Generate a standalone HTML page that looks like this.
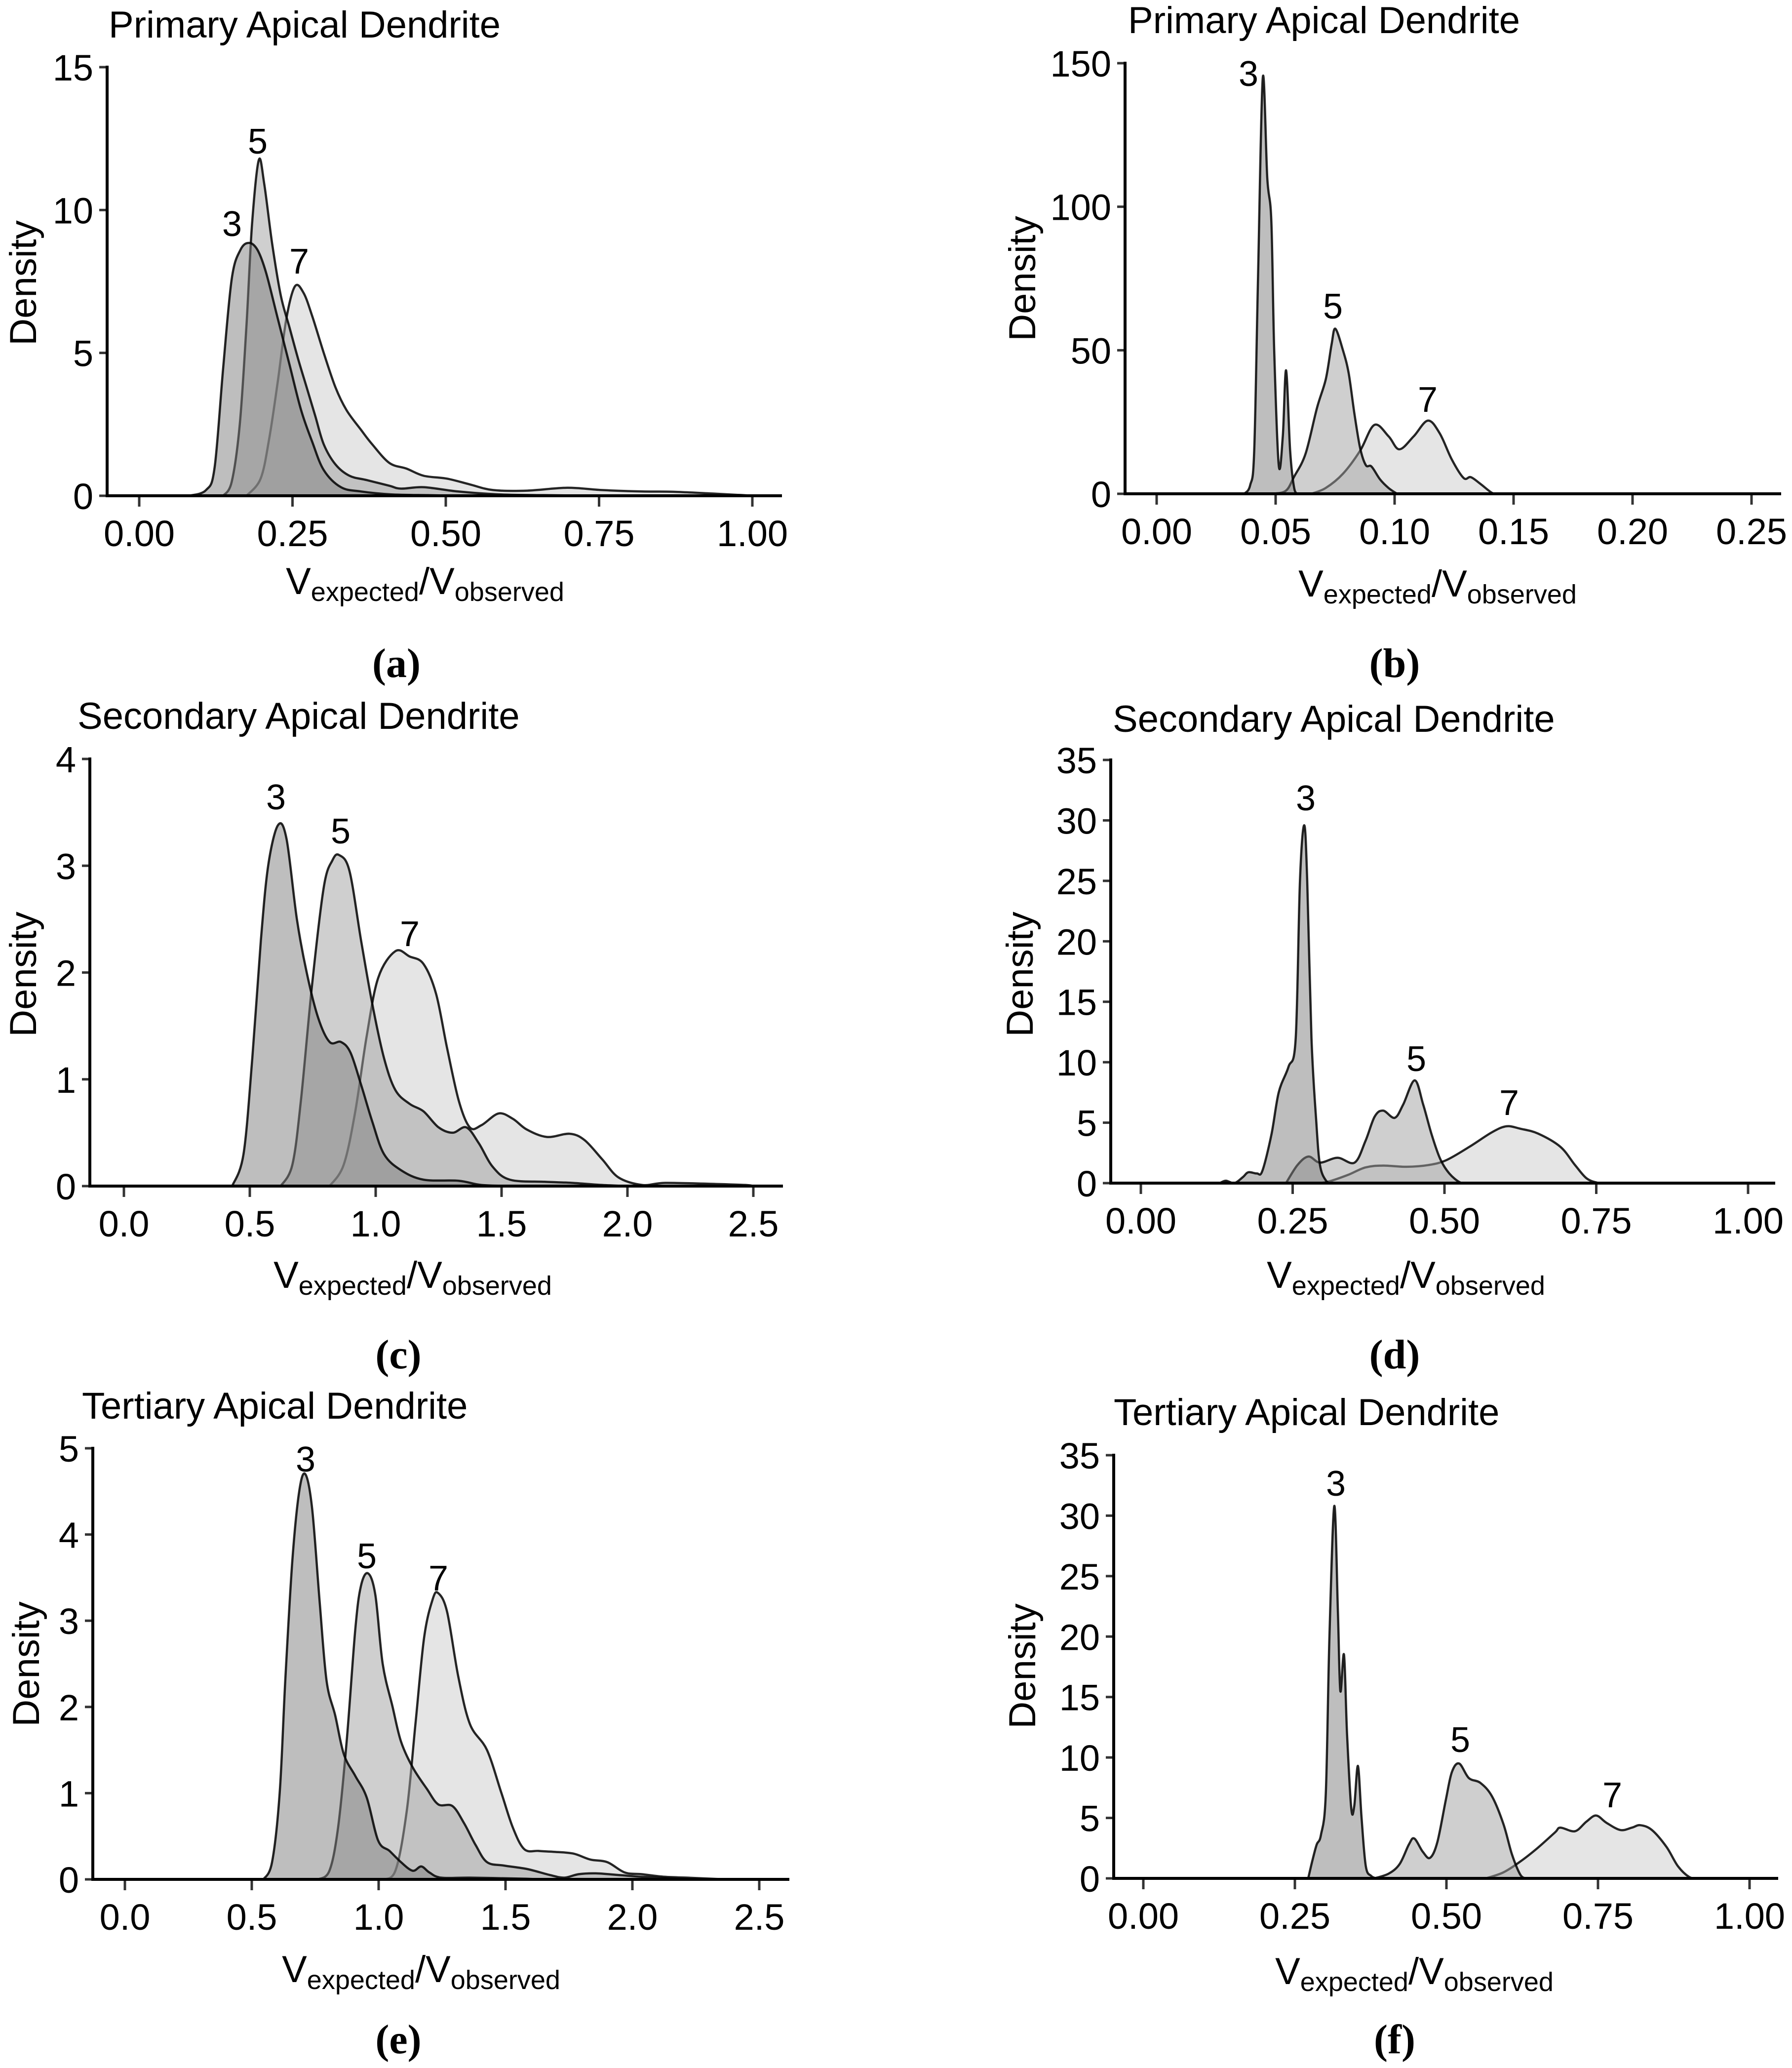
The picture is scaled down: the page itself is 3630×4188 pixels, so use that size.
<!DOCTYPE html>
<html><head><meta charset="utf-8">
<style>
html,body{margin:0;padding:0;background:#fff;}
svg{display:block;}
text{font-family:"Liberation Sans",Arial,sans-serif;fill:#000;}
.cap{font-family:"Liberation Serif",serif;font-weight:bold;}
</style></head>
<body>
<svg id="fig" width="3630" height="4188" viewBox="0 0 3630 4188" xmlns="http://www.w3.org/2000/svg"></svg>
<script>
// Panel (a) Primary, small scale
const a3x=[0.081,0.109,0.123,0.137,0.151,0.165,0.179,0.193,0.207,0.226,0.245,0.264,0.282,0.301,0.329,0.362,0.41,0.47,0.52];
const a3y=[0,0.2,1.0,4.5,7.6,8.6,8.85,8.6,7.8,6.2,4.6,3.0,1.9,0.9,0.3,0.15,0.05,0.02,0];
const a5x=[0.137,0.151,0.164,0.175,0.184,0.195,0.204,0.217,0.231,0.245,0.259,0.273,0.287,0.301,0.32,0.343,0.371,0.408,0.427,0.464,0.52,0.586,0.66,0.75];
const a5y=[0,0.5,2.5,6,9.5,11.75,10.9,8.8,7.0,5.9,4.8,3.8,2.8,1.8,1.1,0.7,0.55,0.35,0.25,0.3,0.15,0.05,0.02,0];
const a7x=[0.175,0.198,0.212,0.226,0.240,0.254,0.268,0.282,0.301,0.32,0.338,0.362,0.380,0.408,0.436,0.464,0.502,0.539,0.577,0.633,0.698,0.754,0.82,0.871,0.941,0.978,1.0];
const a7y=[0,0.6,2.0,4.0,6.2,7.33,7.1,6.3,5.0,3.8,3.0,2.3,1.8,1.15,0.95,0.7,0.6,0.4,0.2,0.18,0.28,0.2,0.15,0.14,0.07,0.03,0];
// Panel (b)
const b3x=[0.0368,0.0393,0.041,0.0426,0.0446,0.0465,0.0482,0.0494,0.0513,0.053,0.0544,0.0561,0.0578,0.0595];
const b3y=[0,3,15,75,145,110,95,50,10,20,43,15,2,0];
const b5x=[0.0482,0.0542,0.0578,0.0626,0.0674,0.0711,0.0735,0.0751,0.0783,0.0807,0.0831,0.0855,0.0879,0.0903,0.0939,0.0975,0.101];
const b5y=[0,1,6,14,30,40,52,57.5,50,42,28,16,10,9.5,5,2,0];
const b7x=[0.065,0.071,0.0783,0.0855,0.0915,0.0975,0.102,0.108,0.114,0.119,0.124,0.129,0.132,0.136,0.141,0.144];
const b7y=[0,2,7,15,24,20,15.5,20,25.5,21,12,5.5,5.8,3.5,0.3,0];
// Panel (c)
const c3x=[0.43,0.475,0.51,0.544,0.573,0.612,0.646,0.687,0.726,0.771,0.817,0.862,0.90,0.942,0.987,1.033,1.10,1.19,1.33,1.42,1.55];
const c3y=[0,0.3,1.2,2.3,3.0,3.38,3.25,2.5,2.0,1.58,1.35,1.35,1.25,0.95,0.6,0.3,0.15,0.06,0.05,0.01,0];
const c5x=[0.623,0.669,0.703,0.748,0.794,0.828,0.855,0.896,0.942,0.987,1.033,1.078,1.135,1.19,1.25,1.306,1.36,1.41,1.465,1.533,1.67,1.78,1.9,2.0];
const c5y=[0,0.2,0.8,1.9,2.8,3.05,3.1,2.95,2.3,1.7,1.2,0.9,0.77,0.7,0.55,0.5,0.55,0.4,0.18,0.06,0.04,0.03,0.01,0];
const c7x=[0.817,0.873,0.919,0.964,1.01,1.078,1.135,1.19,1.24,1.283,1.33,1.374,1.42,1.488,1.545,1.6,1.68,1.77,1.83,1.9,1.965,2.06,2.15,2.35,2.47,2.5];
const c7y=[0,0.2,0.7,1.4,1.95,2.2,2.15,2.08,1.8,1.3,0.8,0.55,0.57,0.68,0.63,0.53,0.46,0.49,0.43,0.25,0.08,0.01,0.03,0.02,0.01,0];
// Panel (d)
const d3x=[0.13,0.14,0.154,0.168,0.177,0.191,0.20,0.215,0.227,0.243,0.255,0.262,0.269,0.274,0.281,0.289,0.295,0.305,0.315];
const d3y=[0,0.2,0,0.5,0.9,0.8,1.0,4,7.5,9.6,12,25,29.6,25,12,5,1.5,0.2,0];
const d5x=[0.239,0.258,0.276,0.295,0.324,0.352,0.37,0.385,0.399,0.418,0.432,0.451,0.465,0.479,0.493,0.508,0.526,0.54];
const d5y=[0,1.5,2.2,1.7,2.1,1.7,3.5,5.5,6.0,5.4,6.5,8.5,6.5,4.0,2.0,0.8,0.05,0];
const d7x=[0.295,0.314,0.342,0.37,0.399,0.437,0.474,0.503,0.541,0.578,0.602,0.625,0.654,0.691,0.715,0.734,0.753,0.77];
const d7y=[0,0.2,0.7,1.3,1.45,1.35,1.5,1.9,3.0,4.2,4.7,4.5,4.1,3.0,1.5,0.4,0.02,0];
// Panel (e)
const e3x=[0.546,0.58,0.61,0.632,0.66,0.687,0.711,0.738,0.768,0.795,0.829,0.863,0.908,0.953,0.998,1.043,1.088,1.134,1.168,1.2,1.246,1.36,1.54,1.65];
const e3y=[0,0.2,1.0,2.3,3.7,4.5,4.7,4.3,3.2,2.3,1.9,1.45,1.2,0.95,0.45,0.33,0.2,0.1,0.15,0.08,0.02,0.02,0.01,0];
const e5x=[0.761,0.806,0.84,0.874,0.908,0.93,0.958,0.987,1.016,1.055,1.088,1.134,1.19,1.235,1.291,1.337,1.382,1.427,1.495,1.585,1.676,1.732,1.788,1.856,1.947,2.037,2.17,2.28];
const e5y=[0,0.1,0.6,1.6,2.9,3.4,3.55,3.3,2.5,2.0,1.6,1.3,1.05,0.87,0.85,0.65,0.4,0.2,0.16,0.12,0.05,0.02,0.06,0.07,0.05,0.03,0.01,0];
const e7x=[1.009,1.066,1.111,1.145,1.179,1.213,1.235,1.27,1.314,1.36,1.427,1.484,1.529,1.574,1.63,1.687,1.766,1.834,1.901,1.97,2.037,2.127,2.217,2.33,2.4];
const e7y=[0,0.1,0.8,1.8,2.8,3.25,3.32,3.1,2.35,1.8,1.5,1.0,0.6,0.35,0.33,0.32,0.3,0.23,0.2,0.08,0.06,0.03,0.02,0.005,0];
// Panel (f)
const f3x=[0.272,0.279,0.286,0.293,0.301,0.307,0.315,0.321,0.325,0.331,0.336,0.343,0.348,0.354,0.36,0.367,0.376,0.385];
const f3y=[0,1.5,2.8,3.6,7,20,30.8,22,15.5,18.5,12,5.8,6,9.3,5,1.0,0.2,0];
const f5x=[0.381,0.405,0.423,0.438,0.447,0.461,0.473,0.485,0.499,0.509,0.521,0.537,0.556,0.575,0.594,0.608,0.622,0.632];
const f5y=[0,0.4,1.2,2.8,3.3,2.2,1.7,3.0,6.5,8.8,9.5,8.3,7.9,6.8,4.5,2.0,0.3,0];
const f7x=[0.565,0.594,0.622,0.65,0.679,0.688,0.712,0.731,0.747,0.764,0.787,0.806,0.82,0.839,0.863,0.882,0.901,0.915];
const f7y=[0,0.5,1.4,2.5,3.8,4.2,3.9,4.7,5.2,4.6,4.0,4.2,4.4,4.0,2.6,1.0,0.1,0];

const xTicksA=["0.00","0.25","0.50","0.75","1.00"];
const xTicksB=["0.00","0.05","0.10","0.15","0.20","0.25"];
const xTicksC=["0.0","0.5","1.0","1.5","2.0","2.5"];
const yTicksA=[0,5,10,15];
const yTicksB=[0,50,100,150];
const yTicksC=[0,1,2,3,4];
const yTicks35=[0,5,10,15,20,25,30,35];
const yTicksE=[0,1,2,3,4,5];

const NS="http://www.w3.org/2000/svg";
const svg=document.getElementById('fig');
function mk(tag,attrs,parent){const e=document.createElementNS(NS,tag);for(const k in attrs)e.setAttribute(k,attrs[k]);(parent||svg).appendChild(e);return e;}

const panels=[
 {id:'a',title:'Primary Apical Dendrite',tx:220,ty:76,ax:217,top:136,base:1004,x0px:282,x1px:1524,xmin:0,xmax:1,end:1584,ymax:15,xt:xTicksA,yt:yTicksA,
  s:[[a7x,a7y],[a5x,a5y],[a3x,a3y]],lab:[[470,452],[522,285],[606,528]],dx:46,dy:573,xtx:861,xty:1181,cx:803,cy:1343},
 {id:'b',title:'Primary Apical Dendrite',tx:2285,ty:67,ax:2279,top:128,base:1000,x0px:2343,x1px:3548,xmin:0,xmax:0.25,end:3608,ymax:150,xt:xTicksB,yt:yTicksB,
  s:[[b7x,b7y],[b5x,b5y],[b3x,b3y]],lab:[[2529,148],[2700,619],[2892,808]],dx:2070,dy:564,xtx:2912,xty:1186,cx:2825,cy:1343},
 {id:'c',title:'Secondary Apical Dendrite',tx:157,ty:1476,ax:182,top:1537,base:2402,x0px:251,x1px:1526,xmin:0,xmax:2.5,end:1586,ymax:4,xt:xTicksC,yt:yTicksC,
  s:[[c7x,c7y],[c5x,c5y],[c3x,c3y]],lab:[[559,1613],[690,1682],[830,1890]],dx:46,dy:1973,xtx:836,xty:2586,cx:807,cy:2743},
 {id:'d',title:'Secondary Apical Dendrite',tx:2254,ty:1482,ax:2250,top:1539,base:2396,x0px:2311,x1px:3541,xmin:0,xmax:1,end:3596,ymax:35,xt:xTicksA,yt:yTicks35,
  s:[[d7x,d7y],[d5x,d5y],[d3x,d3y]],lab:[[2645,1615],[2869,2143],[3057,2232]],dx:2065,dy:1973,xtx:2848,xty:2586,cx:2825,cy:2743},
 {id:'e',title:'Tertiary Apical Dendrite',tx:166,ty:2873,ax:188,top:2933,base:3806,x0px:253,x1px:1538,xmin:0,xmax:2.5,end:1599,ymax:5,xt:xTicksC,yt:yTicksE,
  s:[[e7x,e7y],[e5x,e5y],[e3x,e3y]],lab:[[619,2954],[743,3150],[888,3195]],dx:52,dy:3370,xtx:853,xty:3992,cx:807,cy:4130},
 {id:'f',title:'Tertiary Apical Dendrite',tx:2256,ty:2886,ax:2256,top:2947,base:3804,x0px:2316,x1px:3544,xmin:0,xmax:1,end:3602,ymax:35,xt:xTicksA,yt:yTicks35,
  s:[[f7x,f7y],[f5x,f5y],[f3x,f3y]],lab:[[2706,3003],[2958,3522],[3266,3634]],dx:2070,dy:3374,xtx:2865,xty:3996,cx:2825,cy:4130}
];
const fills=['#cbcbcb','#a0a0a0','#7d7d7d'];
const names=['7','5','3'];

function smoothPath(pts){
  let d='M'+pts[0][0].toFixed(1)+','+pts[0][1].toFixed(1);
  for(let i=0;i<pts.length-1;i++){
    const p0=pts[Math.max(0,i-1)],p1=pts[i],p2=pts[i+1],p3=pts[Math.min(pts.length-1,i+2)];
    const c1x=p1[0]+(p2[0]-p0[0])/6,c1y=p1[1]+(p2[1]-p0[1])/6;
    const c2x=p2[0]-(p3[0]-p1[0])/6,c2y=p2[1]-(p3[1]-p1[1])/6;
    d+=' C'+c1x.toFixed(1)+','+c1y.toFixed(1)+' '+c2x.toFixed(1)+','+c2y.toFixed(1)+' '+p2[0].toFixed(1)+','+p2[1].toFixed(1);
  }
  return d;
}

panels.forEach(p=>{
  const g=mk('g',{});
  
  
  const X=v=>p.x0px+(v-p.xmin)/(p.xmax-p.xmin)*(p.x1px-p.x0px);
  const Y=v=>p.base-v/p.ymax*(p.base-p.top);
  const t=mk('text',{x:p.tx,y:p.ty,'font-size':76},g);t.textContent=p.title;
  
  
  p.s.forEach((ser,i)=>{
    const pts=ser[0].map((x,k)=>[X(x),Math.min(Y(ser[1][k]),p.base)]);
    let d=smoothPath(pts);
    const area=mk('path',{d:d+' L'+pts[pts.length-1][0].toFixed(1)+','+p.base+' L'+pts[0][0].toFixed(1)+','+p.base+' Z',fill:fills[i],'fill-opacity':0.5,stroke:'none'},g);
    
    
    const ln=mk('path',{d:d,fill:'none',stroke:'#000','stroke-opacity':0.85,'stroke-width':4.5,'stroke-linejoin':'round'},g);
    
    
  });
  [2,1,0].forEach((i,j)=>{
    const L=p.lab[j];
    const lt=mk('text',{x:L[0],y:L[1]+26,'font-size':72,'text-anchor':'middle'},g);lt.textContent=['3','5','7'][j];
    
    
  });
  const ya=mk('line',{x1:p.ax,y1:p.top-3,x2:p.ax,y2:p.base+3,stroke:'#000','stroke-width':6},g);
  
  
  const xa=mk('line',{x1:p.ax-3,y1:p.base,x2:p.end,y2:p.base,stroke:'#000','stroke-width':6},g);
  
  
  p.yt.forEach(v=>{
    mk('line',{x1:p.ax-16,y1:Y(v),x2:p.ax-3,y2:Y(v),stroke:'#333','stroke-width':5},g);
    const tl=mk('text',{x:p.ax-28,y:Y(v)+27,'font-size':74,'text-anchor':'end'},g);tl.textContent=v;
    
    
  });
  p.xt.forEach(s=>{
    const v=parseFloat(s);
    mk('line',{x1:X(v),y1:p.base+3,x2:X(v),y2:p.base+22,stroke:'#333','stroke-width':5},g);
    const tl=mk('text',{x:X(v),y:p.base+102,'font-size':74,'text-anchor':'middle'},g);tl.textContent=s;
    
    
  });
  const yt=mk('text',{x:0,y:0,'font-size':76,'text-anchor':'middle',transform:'translate('+(p.dx+27)+','+p.dy+') rotate(-90)'},g);yt.textContent='Density';
  
  
  const xt=mk('text',{x:p.xtx,y:p.xty+22,'font-size':76,'text-anchor':'middle'},g);
  
  
  xt.innerHTML='V<tspan font-size="54" dy="14">expected</tspan><tspan dy="-14">/V</tspan><tspan font-size="54" dy="14">observed</tspan>';
  const cap=mk('text',{x:p.cx,y:p.cy+28,'font-size':84,'text-anchor':'middle','class':'cap'},g);cap.textContent='('+p.id+')';
  
  
});
</script>
</body></html>
